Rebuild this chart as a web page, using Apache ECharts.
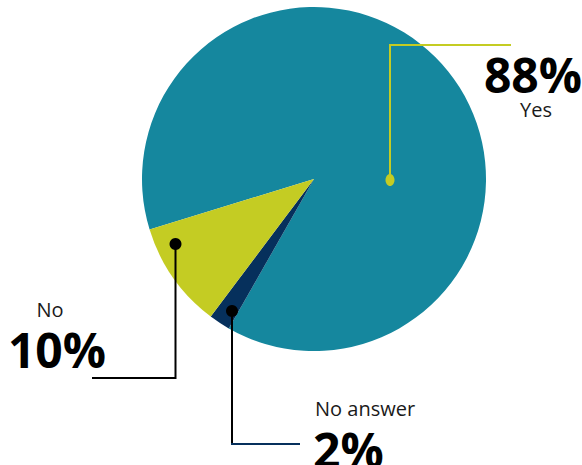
<!DOCTYPE html>
<html>
<head>
<meta charset="utf-8">
<script src="https://cdn.jsdelivr.net/npm/echarts@6/dist/echarts.min.js"></script>
<style>
  html, body { margin: 0; padding: 0; background: #fff; }
  #chart { width: 582px; height: 465px; }
</style>
</head>
<body>
<div id="chart"></div>
<script>
// slice order as drawn clockwise from the No/Yes boundary
const answers = ["Yes", "No answer", "No"];
const shares = [88, 2, 10];
const sliceColors = ["#15879e", "#06305c", "#c4cc23"];

const chart = echarts.init(document.getElementById("chart"), null, { renderer: "svg" });

const pct = (i) => shares[i] + "%";
const FONT = "'Open Sans', 'Noto Sans', sans-serif";

// big percentage / small answer text styles
const big = { font: "bold 48px " + FONT, lineHeight: 36, fill: "#000", verticalAlign: "top" };
const small = { font: "20px " + FONT, lineHeight: 16, fill: "#1a1a1a", verticalAlign: "top" };

// leader lines + dots + label texts
const graphics = [
  // Yes
  { type: "polyline", shape: { points: [[390, 180], [390, 45], [511, 45]] }, style: { stroke: "#c4cc23", lineWidth: 2, fill: null } },
  { type: "ellipse", shape: { cx: 390, cy: 180, rx: 4.5, ry: 6 }, style: { fill: "#c4cc23" } },
  { type: "text", style: Object.assign({ text: pct(0), x: 533, y: 56, align: "center" }, big) },
  { type: "text", style: Object.assign({ text: answers[0], x: 536, y: 101, align: "center" }, small) },
  // No
  { type: "polyline", shape: { points: [[175.5, 244], [175.5, 378], [92, 378]] }, style: { stroke: "#000", lineWidth: 2, fill: null } },
  { type: "circle", shape: { cx: 175.5, cy: 244, r: 6 }, style: { fill: "#000" } },
  { type: "text", style: Object.assign({ text: answers[2], x: 50, y: 301, align: "center" }, small) },
  { type: "text", style: Object.assign({ text: pct(2), x: 57, y: 331, align: "center" }, big) },
  // No answer
  { type: "polyline", shape: { points: [[232, 311], [232, 444]] }, style: { stroke: "#000", lineWidth: 2, fill: null } },
  { type: "polyline", shape: { points: [[231, 444], [300, 444]] }, style: { stroke: "#06305c", lineWidth: 2, fill: null } },
  { type: "circle", shape: { cx: 232, cy: 311, r: 6 }, style: { fill: "#000" } },
  { type: "text", style: Object.assign({ text: answers[1], x: 315, y: 400, align: "left" }, small) },
  { type: "text", style: Object.assign({ text: pct(1), x: 313, y: 431, align: "left" }, big) }
];

chart.setOption({
  animation: false,
  series: [
    {
      type: "pie",
      center: [314, 179],
      radius: 172,
      startAngle: 197.1,
      clockwise: true,
      label: { show: false },
      labelLine: { show: false },
      silent: true,
      data: answers.map((name, i) => ({
        name: name,
        value: shares[i],
        itemStyle: { color: sliceColors[i] }
      }))
    }
  ],
  graphic: graphics.map((g) => Object.assign({ z: 10, silent: true }, g))
});
</script>
</body>
</html>
